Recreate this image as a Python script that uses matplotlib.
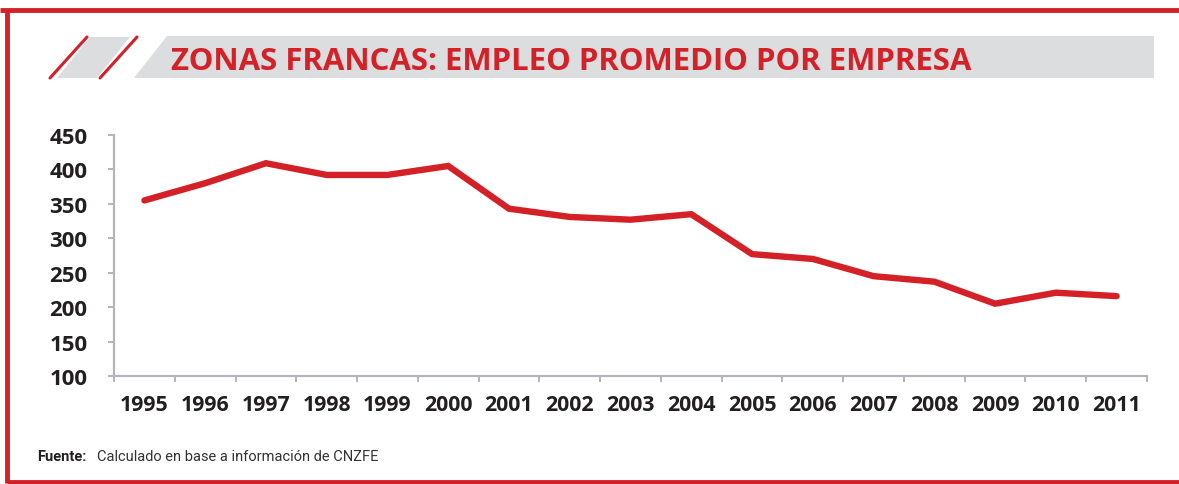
import matplotlib
matplotlib.use("Agg")
import matplotlib.pyplot as plt
from matplotlib.patches import Polygon
from matplotlib.lines import Line2D

# data
years = ["1995", "1996", "1997", "1998", "1999", "2000", "2001", "2002", "2003",
         "2004", "2005", "2006", "2007", "2008", "2009", "2010", "2011"]
empleo = [355, 380, 409, 392, 392, 405, 343, 331, 327, 335, 277, 270, 245, 237, 205, 221, 216]
y_ticks = [100, 150, 200, 250, 300, 350, 400, 450]

title = "ZONAS FRANCAS: EMPLEO PROMEDIO POR EMPRESA"
fuente_lbl = "Fuente:"
fuente_txt = "Calculado en base a información de CNZFE"

RED = "#d42027"
GRAY = "#dcdddf"
DARK = "#231f20"
AXIS = "#b3b5b8"

W, H = 1179, 485
fig = plt.figure(figsize=(W / 100, H / 100), dpi=100)


def px(x, y):
    # pixel coords (top-left origin) -> figure fraction
    return (x / W, 1 - y / H)


# --- frame ---
for pts in [[(0, 11), (W, 11)], [(7.5, 11), (7.5, 484)], [(7.5, 483), (W, 483)]]:
    (x0, y0), (x1, y1) = px(*pts[0]), px(*pts[1])
    fig.add_artist(Line2D([x0, x1], [y0, y1], color=RED, lw=3.5, solid_capstyle="butt"))

# --- title banner ---
fig.add_artist(Polygon([px(134, 79), px(167, 37), px(1154, 37), px(1154, 79)],
                       closed=True, fc=GRAY, ec="none"))
fig.add_artist(Polygon([px(57, 79), px(90, 38), px(130, 38), px(97, 79)],
                       closed=True, fc=GRAY, ec="none"))
for a, b in [((50, 79), (87, 38)), ((100, 79), (137, 38))]:
    (x0, y0), (x1, y1) = px(*a), px(*b)
    fig.add_artist(Line2D([x0, x1], [y0, y1], color=RED, lw=2.2, solid_capstyle="round"))

tx, ty = px(171, 70)
fig.text(tx, ty, title, color=RED, fontsize=22.4, fontweight="bold",
         family="Open Sans", ha="left", va="baseline")

# --- source note ---
fx, fy = px(37, 461)
fig.text(fx, fy, fuente_lbl, color=DARK, fontsize=10.5, fontweight="bold",
         family="Roboto", ha="left", va="baseline")
gx, _ = px(97, 461)
fig.text(gx, fy, fuente_txt, color="#333333", fontsize=10.5,
         family="Roboto", ha="left", va="baseline")

# --- chart ---
ax = fig.add_axes([114 / W, (H - 377) / H, 1033 / W, 241 / H])
x = list(range(len(years)))
ax.plot(x, empleo, color=RED, lw=4.6, solid_capstyle="round", solid_joinstyle="miter")

ax.set_xlim(-0.5, len(years) - 0.5)
ax.set_ylim(100, 450)
ax.set_yticks(y_ticks)
ax.set_yticklabels([str(v) for v in y_ticks])
ax.set_xticks([i - 0.5 for i in range(len(years) + 1)])
ax.set_xticklabels([])
ax.set_xticks(x, minor=True)
ax.set_xticklabels(years, minor=True)

for s in ["top", "right"]:
    ax.spines[s].set_visible(False)
for s in ["left", "bottom"]:
    ax.spines[s].set_color(AXIS)
    ax.spines[s].set_linewidth(1.6)

ax.tick_params(axis="y", length=4, width=1.4, color=AXIS, pad=15,
               labelsize=16, labelcolor=DARK)
ax.tick_params(axis="x", which="major", length=4, width=1.4, color=AXIS, direction="out")
ax.tick_params(axis="x", which="minor", length=0, pad=13, labelsize=15.3, labelcolor=DARK)
for lab in ax.get_yticklabels() + ax.get_xticklabels(minor=True):
    lab.set_fontfamily("Open Sans")
    lab.set_fontweight("bold")

fig.savefig("out.png", dpi=100)
